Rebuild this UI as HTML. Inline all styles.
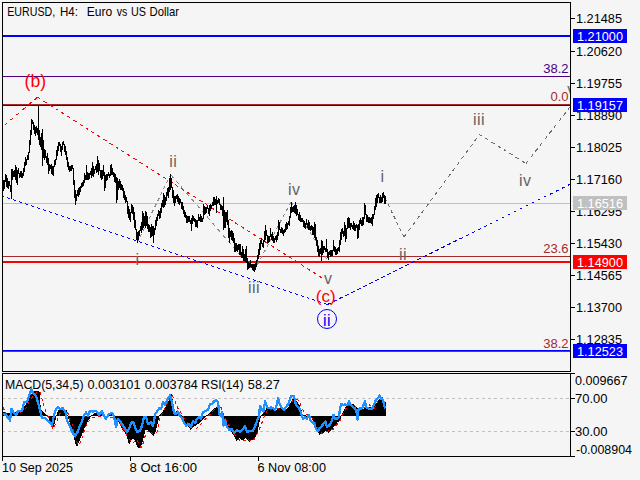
<!DOCTYPE html>
<html><head><meta charset="utf-8"><title>EURUSD H4</title>
<style>
html,body{margin:0;padding:0;background:#f5f5f5;}
body{width:640px;height:480px;overflow:hidden;position:relative;font-family:"Liberation Sans",sans-serif;}
svg{position:absolute;left:0;top:0;display:block;}
text{font-family:"Liberation Sans",sans-serif;}
.ax{font-size:13px;fill:#000;}
.axw{font-size:13px;fill:#fff;}
.wv{font-size:16px;fill:#646464;letter-spacing:0.4px;}
.wr{font-size:17px;fill:#ff0000;}
.fb{font-size:13px;}
</style></head><body>
<svg width="640" height="480" viewBox="0 0 640 480">
<rect x="0" y="0" width="640" height="480" fill="#f5f5f5"/>
<g shape-rendering="crispEdges">
<rect x="3" y="35" width="567" height="2" fill="#0000ff"/>
<rect x="3" y="76" width="567" height="1" fill="#4b0082"/>
<rect x="3" y="104" width="567" height="1" fill="#a52a2a"/>
<rect x="3" y="105" width="567" height="1" fill="#0000ff"/>
<rect x="3" y="203" width="567" height="1" fill="#c0c0c0"/>
<rect x="3" y="256" width="567" height="1" fill="#a52a2a"/>
<rect x="3" y="261" width="567" height="2" fill="#ff0000"/>
<rect x="3" y="350" width="567" height="1" fill="#0000ff"/>
<rect x="3" y="351" width="567" height="1" fill="#a52a2a"/>
</g>
<g shape-rendering="crispEdges" fill="none">
<path d="M2 398.5H570M2 431.5H570" stroke="#c0c0c0" stroke-width="1" stroke-dasharray="3 3"/>
</g>
<g fill="none" stroke-width="1" shape-rendering="crispEdges">
<path d="M37.5 97.2L3 126.5" stroke="#ff0000" stroke-dasharray="3.94 3.94"/>
<path d="M37.5 97.2L323 278.5" stroke="#ff0000" stroke-dasharray="3.55 3.55"/>
<path d="M327.5 304.5L3 196.3" stroke="#0000ff" stroke-dasharray="3.16 3.16"/>
<path d="M327.5 304.5L570 184.3" stroke="#0000ff" stroke-dasharray="3.35 3.35"/>
<path d="M137 243L170.7 174.7" stroke="#8a8a8a" stroke-dasharray="3.35 3.35"/>
<path d="M170.7 174.7L254 271" stroke="#8a8a8a" stroke-dasharray="3.97 3.97"/>
<path d="M254 271L291 202" stroke="#8a8a8a" stroke-dasharray="3.40 3.40"/>
<path d="M291 202L328 261" stroke="#8a8a8a" stroke-dasharray="3.54 3.54"/>
<path d="M385 198L404 237" stroke="#6c6c6c" stroke-dasharray="3.34 3.34"/>
<path d="M404 237L479.5 134.5" stroke="#6c6c6c" stroke-dasharray="3.73 3.73"/>
<path d="M479.5 134.5L526 163.5" stroke="#6c6c6c" stroke-dasharray="3.54 3.54"/>
<path d="M526 163.5L570 107" stroke="#6c6c6c" stroke-dasharray="3.80 3.80"/>
</g>
<g shape-rendering="crispEdges">
<path d="M3 180v11M4 180v9M5 174v8M6 175v12M7 178v10M8 181v8M9 181v5M10 185v7M11 169v30M12 169v11M13 171v6M14 170v7M15 165v15M16 167v16M17 170v15M18 168v6M19 173v5M20 171v6M21 171v7M22 173v5M23 168v8M24 162v10M25 157v9M26 159v6M27 155v5M28 152v8M29 140v13M30 130v15M31 119v16M32 120v4M33 122v8M34 125v9M35 127v9M36 126v7M37 128v7M38 105v35M39 130v15M40 137v10M41 133v17M42 129v37M43 140v18M44 149v11M45 150v8M46 156v7M47 153v12M48 158v16M49 164v7M50 165v4M51 164v10M52 166v9M53 166v10M54 160v7M55 159v6M56 150v10M57 146v10M58 142v9M59 142v4M60 144v8M61 146v10M62 142v8M63 141v4M64 144v8M65 146v9M66 151v9M67 157v10M68 162v8M69 166v6M70 166v5M71 165v6M72 165v4M73 168v17M74 180v18M75 190v15M76 194v7M77 190v6M78 188v9M79 187v8M80 186v6M81 183v5M82 182v5M83 180v6M84 173v10M85 175v5M86 165v15M87 172v8M88 173v7M89 173v6M90 171v4M91 168v10M92 162v14M93 166v11M94 169v5M95 166v4M96 164v9M97 156v16M98 160v15M99 163v8M100 170v8M101 170v10M102 170v9M103 165v11M104 172v19M105 175v13M106 174v7M107 174v6M108 172v4M109 174v4M110 165v11M111 164v11M112 168v7M113 172v5M114 173v9M115 174v9M116 177v26M117 178v22M118 181v9M119 179v9M120 181v9M121 184v6M122 185v6M123 188v10M124 191v9M125 195v8M126 197v5M127 201v13M128 206v12M129 209v11M130 212v10M131 204v9M132 205v9M133 207v13M134 212v16M135 220v10M136 229v11M137 232v11M138 231v9M139 230v6M140 226v5M141 222v11M142 211v19M143 213v15M144 216v10M145 211v17M146 212v14M147 216v13M148 224v8M149 225v7M150 227v11M151 224v13M152 226v10M153 226v17M154 228v7M155 220v10M156 217v9M157 214v7M158 210v6M159 211v8M160 208v10M161 203v10M162 200v7M163 193v15M164 195v12M165 197v8M166 192v9M167 188v8M168 187v11M169 178v14M170 174v16M171 178v10M172 187v11M173 190v13M174 196v10M175 196v7M176 195v4M177 194v8M178 196v8M179 198v7M180 199v4M181 202v7M182 202v8M183 206v8M184 210v7M185 212v6M186 215v8M187 216v7M188 216v6M189 216v6M190 220v4M191 218v13M192 215v9M193 216v5M194 218v4M195 219v8M196 220v7M197 220v8M198 214v7M199 217v4M200 214v8M201 216v6M202 218v4M203 204v15M204 206v9M205 207v7M206 207v6M207 205v4M208 208v6M209 205v11M210 204v7M211 205v4M212 202v4M213 197v9M214 197v8M215 199v6M216 196v17M217 200v4M218 198v5M219 199v6M220 204v6M221 205v5M222 206v10M223 197v33M224 210v18M225 212v16M226 212v10M227 210v15M228 220v18M229 228v15M230 231v6M231 230v10M232 231v10M233 233v10M234 238v14M235 243v9M236 243v8M237 245v7M238 244v6M239 244v11M240 244v11M241 252v6M242 246v12M243 249v12M244 254v7M245 249v13M246 246v17M247 258v12M248 262v7M249 263v5M250 260v7M251 264v4M252 264v6M253 264v7M254 264v8M255 263v7M256 260v7M257 255v6M258 249v10M259 243v12M260 240v10M261 238v6M262 243v4M263 240v8M264 231v11M265 225v15M266 230v6M267 235v8M268 236v7M269 236v6M270 228v9M271 234v6M272 232v9M273 236v7M274 238v5M275 236v4M276 235v7M277 232v8M278 220v16M279 222v8M280 229v4M281 227v6M282 228v6M283 230v6M284 229v4M285 224v8M286 222v8M287 223v6M288 221v4M289 216v10M290 207v11M291 202v11M292 207v5M293 206v6M294 205v8M295 202v12M296 205v11M297 209v6M298 214v6M299 212v9M300 215v7M301 218v4M302 218v4M303 220v7M304 221v7M305 223v6M306 219v6M307 223v5M308 220v10M309 222v8M310 226v5M311 225v5M312 226v9M313 227v8M314 222v16M315 224v16M316 237v9M317 240v12M318 246v10M319 249v8M320 248v6M321 240v21M322 241v14M323 246v7M324 246v4M325 248v4M326 239v13M327 249v9M328 252v8M329 251v4M330 250v7M331 250v6M332 250v6M333 240v11M334 246v6M335 247v8M336 249v6M337 248v6M338 247v4M339 240v12M340 232v13M341 229v11M342 228v6M343 231v6M344 222v14M345 225v17M346 228v11M347 218v11M348 217v11M349 218v10M350 223v7M351 223v4M352 225v4M353 221v9M354 223v8M355 225v6M356 224v4M357 225v14M358 224v14M359 220v10M360 218v6M361 220v6M362 217v9M363 217v8M364 203v16M365 205v10M366 214v8M367 215v7M368 217v6M369 217v6M370 218v5M371 217v7M372 214v12M373 214v5M374 206v9M375 198v12M376 195v12M377 194v9M378 193v5M379 197v6M380 195v8M381 197v6M382 193v9M383 192v6M384 195v9M385 196v8" stroke="#000" stroke-width="1" fill="none" transform="translate(0.5,0)"/>
</g>
<g shape-rendering="crispEdges">
<path d="M3 412V416M4 412V416M5 412V416M6 413V416M7 413V416M8 413V416M9 413V416M10 412V416M11 412V416M12 412V416M13 412V416M14 412V416M15 412V416M16 412V416M17 412V416M18 411V416M19 410V416M20 410V416M21 409V416M22 408V416M23 407V416M24 406V416M25 405V416M26 403V416M27 401V416M28 399V416M29 397V416M30 395V416M31 394V416M32 392V416M33 391V416M34 391V416M35 391V416M36 391V416M37 391V416M38 391V416M39 392V416M40 405V416M41 410V416M42 411V416M43 412V416M44 413V416M45 414V416M46 415V416M47 415V416M48 416V418M49 416V421M50 416V423M51 416V425M52 416V428M53 416V427M54 416V424M55 416V420M56 415V416M57 412V416M58 410V416M59 410V416M60 410V416M61 410V416M62 410V416M63 410V416M64 410V416M65 410V416M66 410V416M67 415V416M68 416V419M69 416V422M70 416V426M71 416V429M72 416V432M73 416V435M74 416V440M75 416V444M76 416V446M77 416V446M78 416V443M79 416V441M80 416V438M81 416V436M82 416V433M83 416V431M84 416V428M85 416V426M86 416V424M87 416V422M88 416V420M89 416V419M90 416V417M91 415V416M92 415V416M93 414V416M94 413V416M95 413V416M96 413V416M97 413V416M98 413V416M99 413V416M100 413V416M101 414V416M102 414V416M103 415V416M104 416V417M105 416V418M106 416V419M107 416V418M108 415V416M109 415V416M110 414V416M111 414V416M112 414V416M113 415V416M114 416V417M115 416V419M116 416V420M117 416V421M118 416V422M119 416V424M120 416V426M121 416V428M122 416V430M123 416V431M124 416V432M125 416V434M126 416V435M127 416V439M128 416V443M129 416V444M130 416V442M131 416V440M132 416V439M133 416V439M134 416V440M135 416V442M136 416V445M137 416V447M138 416V448M139 416V448M140 416V447M141 416V445M142 416V442M143 416V438M144 416V434M145 416V430M146 416V430M147 416V430M148 416V431M149 416V432M150 416V433M151 416V434M152 416V435M153 416V436M154 416V434M155 416V432M156 416V428M157 416V424M158 416V420M159 415V416M160 414V416M161 413V416M162 412V416M163 410V416M164 408V416M165 407V416M166 405V416M167 403V416M168 401V416M169 397V416M170 394V416M171 394V416M172 399V416M173 405V416M174 410V416M175 412V416M176 411V416M177 410V416M178 412V416M179 415V416M180 415V416M181 415V416M182 416V418M183 416V420M184 416V422M185 416V424M186 416V425M187 416V426M188 416V427M189 416V428M190 416V430M191 416V429M192 416V428M193 416V427M194 416V426M195 416V426M196 416V425M197 416V424M198 416V424M199 416V423M200 416V422M201 416V421M202 416V420M203 416V419M204 416V418M205 416V417M206 415V416M207 415V416M208 414V416M209 413V416M210 412V416M211 411V416M212 410V416M213 409V416M214 408V416M215 408V416M216 407V416M217 406V416M218 407V416M219 408V416M220 415V416M221 416V418M222 416V420M223 416V421M224 416V422M225 416V424M226 416V426M227 416V427M228 416V428M229 416V430M230 416V431M231 416V432M232 416V434M233 416V435M234 416V437M235 416V439M236 416V441M237 416V440M238 416V439M239 416V438M240 416V439M241 416V440M242 416V440M243 416V440M244 416V439M245 416V438M246 416V439M247 416V440M248 416V441M249 416V442M250 416V441M251 416V440M252 416V440M253 416V439M254 416V438M255 416V437M256 416V434M257 416V432M258 416V427M259 416V422M260 416V418M261 415V416M262 414V416M263 413V416M264 411V416M265 410V416M266 408V416M267 408V416M268 408V416M269 408V416M270 408V416M271 409V416M272 409V416M273 409V416M274 410V416M275 410V416M276 410V416M277 409V416M278 409V416M279 408V416M280 408V416M281 408V416M282 409V416M283 410V416M284 411V416M285 410V416M286 409V416M287 408V416M288 407V416M289 405V416M290 403V416M291 401V416M292 399V416M293 398V416M294 399V416M295 400V416M296 401V416M297 402V416M298 404V416M299 405V416M300 408V416M301 410V416M302 415V416M303 415V416M304 415V416M305 415V416M306 416V417M307 416V417M308 416V417M309 416V417M310 416V418M311 416V418M312 416V420M313 416V422M314 416V425M315 416V427M316 416V429M317 416V431M318 416V433M319 416V435M320 416V434M321 416V434M322 416V433M323 416V433M324 416V432M325 416V431M326 416V432M327 416V432M328 416V433M329 416V432M330 416V431M331 416V430M332 416V429M333 416V427M334 416V426M335 416V425M336 416V424M337 416V422M338 416V422M339 416V420M340 416V419M341 415V416M342 413V416M343 411V416M344 409V416M345 407V416M346 406V416M347 405V416M348 404V416M349 404V416M350 404V416M351 404V416M352 404V416M353 404V416M354 405V416M355 406V416M356 407V416M357 408V416M358 409V416M359 409V416M360 409V416M361 409V416M362 409V416M363 409V416M364 408V416M365 408V416M366 408V416M367 408V416M368 407V416M369 407V416M370 407V416M371 407V416M372 408V416M373 408V416M374 406V416M375 404V416M376 403V416M377 401V416M378 400V416M379 399V416M380 398V416M381 399V416M382 399V416M383 400V416M384 401V416M385 402V416" stroke="#000" stroke-width="1" fill="none" transform="translate(0.5,0)"/>
</g>
<path d="M3.0 407.0 L5.0 412.0 L8.0 416.5 L12.0 417.0 L18.0 414.0 L23.0 411.0 L27.0 407.0 L30.0 400.0 L34.0 395.0 L38.0 392.0 L40.0 392.0 L42.0 398.6 L44.0 406.4 L46.0 412.0 L48.0 416.5 L51.0 424.0 L53.0 429.0 L56.0 423.6 L58.0 418.0 L60.0 413.4 L63.0 411.0 L66.0 410.3 L68.0 413.4 L70.0 421.0 L72.0 423.6 L74.0 432.0 L76.0 440.5 L79.0 445.0 L82.0 438.0 L84.5 430.0 L87.0 424.0 L90.0 420.0 L92.0 417.8 L98.0 416.0 L104.0 416.0 L108.0 417.5 L112.0 417.0 L116.0 419.0 L120.0 424.0 L124.0 430.0 L126.0 433.4 L128.0 438.0 L131.0 441.0 L133.0 442.8 L137.0 439.7 L139.0 444.0 L141.0 447.5 L143.0 443.6 L145.0 436.6 L147.0 432.0 L150.0 430.3 L153.0 434.0 L157.0 432.0 L159.0 422.5 L160.0 417.8 L163.0 412.3 L166.0 406.0 L169.0 400.0 L172.0 395.0 L174.0 398.3 L176.0 403.8 L178.0 408.4 L181.0 413.0 L183.0 416.2 L186.0 421.0 L190.0 426.0 L194.0 428.5 L197.0 428.0 L200.0 425.6 L203.0 421.7 L206.0 418.6 L209.0 415.5 L213.0 411.0 L217.0 407.0 L220.0 405.0 L222.0 410.0 L224.0 415.5 L228.0 424.0 L231.0 428.8 L234.0 433.0 L237.0 438.0 L240.0 440.5 L245.0 440.5 L248.0 439.0 L250.0 441.0 L254.0 439.7 L257.0 434.0 L259.0 430.0 L261.0 425.0 L263.0 420.0 L265.0 414.7 L267.0 410.8 L272.0 409.0 L280.0 408.0 L286.0 408.0 L290.0 404.0 L294.0 399.0 L298.0 400.0 L300.0 403.0 L302.0 408.4 L305.0 413.0 L308.0 415.5 L312.0 417.8 L315.0 421.7 L317.0 425.6 L320.0 431.0 L322.0 433.4 L328.0 431.0 L333.0 429.5 L336.0 425.6 L339.0 422.5 L341.5 417.8 L343.5 413.0 L346.0 408.4 L349.0 405.5 L352.0 404.5 L355.0 406.0 L357.0 409.0 L362.0 408.5 L366.0 407.0 L369.0 404.5 L372.0 406.9 L374.0 408.4 L376.0 405.3 L378.0 400.6 L381.0 398.5 L383.0 397.5 L385.0 398.0" stroke="#ff0000" stroke-width="1" fill="none" stroke-dasharray="3 3" shape-rendering="crispEdges"/>
<path d="M3.0 414.0 L6.0 415.0 L10.0 420.5 L11.5 408.8 L14.0 413.0 L16.0 415.0 L18.0 411.0 L22.0 411.0 L24.0 402.5 L27.0 401.7 L29.5 394.7 L31.5 389.2 L33.0 393.0 L36.0 396.0 L38.0 402.5 L40.0 410.0 L42.0 418.0 L45.0 418.0 L48.0 421.0 L52.0 425.0 L54.0 415.0 L56.0 409.5 L58.0 407.0 L60.0 408.8 L63.0 408.4 L65.5 412.3 L67.0 421.0 L70.0 426.4 L73.0 433.4 L75.0 435.8 L77.5 432.0 L80.0 425.6 L82.0 421.0 L84.0 415.5 L86.0 412.3 L88.0 415.5 L90.0 410.8 L93.0 411.5 L96.0 410.8 L99.0 414.7 L102.0 411.5 L104.0 416.2 L106.0 418.6 L109.0 414.0 L112.0 413.0 L114.0 416.2 L116.0 427.0 L118.0 418.6 L121.0 422.5 L124.0 427.0 L127.0 432.0 L129.0 428.8 L131.0 423.3 L133.0 421.7 L135.0 427.0 L137.0 432.0 L140.0 431.0 L142.0 425.6 L144.0 417.0 L146.0 417.0 L148.0 424.0 L151.0 422.5 L153.0 426.4 L155.0 414.7 L157.0 411.6 L159.0 408.4 L161.0 409.2 L163.0 402.2 L165.0 404.5 L167.0 400.6 L170.0 395.2 L172.0 402.2 L174.0 413.0 L176.0 414.0 L178.0 411.6 L180.0 416.2 L182.0 417.8 L184.0 422.5 L186.0 425.6 L189.0 424.0 L191.0 427.0 L193.0 421.0 L195.0 423.3 L197.0 418.6 L199.0 417.0 L201.0 418.6 L203.0 412.3 L206.0 410.8 L208.0 410.0 L210.0 404.5 L212.0 403.8 L214.0 401.4 L216.0 399.8 L218.0 402.2 L219.5 414.7 L221.0 416.2 L222.0 412.3 L223.5 425.6 L225.0 420.0 L227.0 427.0 L229.0 429.5 L232.0 429.5 L234.0 432.6 L237.0 430.3 L240.0 432.0 L242.0 430.3 L245.0 426.4 L247.0 432.0 L250.0 431.0 L253.0 431.0 L255.0 426.4 L257.0 421.0 L259.0 416.2 L260.0 406.0 L262.0 410.0 L263.5 411.5 L265.0 401.4 L267.0 406.9 L269.0 408.4 L271.0 406.9 L273.0 408.4 L275.0 410.0 L277.0 404.5 L278.0 398.3 L280.0 405.3 L282.0 407.7 L284.0 410.0 L286.0 406.9 L288.0 404.5 L289.5 400.6 L291.0 396.0 L294.0 396.0 L296.0 405.3 L299.0 407.7 L301.0 413.0 L303.0 418.6 L305.0 417.0 L307.0 418.6 L309.0 414.7 L310.0 420.0 L312.0 421.7 L314.0 423.3 L316.0 428.8 L318.0 431.0 L320.0 428.0 L322.0 425.6 L324.0 423.3 L325.5 421.7 L327.0 427.0 L329.0 425.6 L331.0 423.3 L332.5 418.6 L333.5 414.7 L335.0 418.6 L337.0 418.6 L339.0 417.0 L340.0 408.4 L341.5 403.8 L343.0 405.3 L345.0 404.5 L347.0 405.3 L349.0 401.4 L351.0 405.3 L353.0 406.9 L355.0 408.4 L356.5 412.3 L357.5 419.4 L358.5 410.0 L360.0 408.4 L362.0 408.4 L364.0 403.8 L365.0 400.6 L366.0 406.9 L368.0 408.4 L370.0 409.2 L372.0 409.2 L374.0 404.5 L376.0 399.8 L378.0 398.3 L379.5 395.2 L381.0 399.0 L383.0 399.8 L384.0 404.5 L385.0 408.4" stroke="#1e90ff" stroke-width="2.3" fill="none" stroke-linejoin="round" shape-rendering="crispEdges"/>
<g shape-rendering="crispEdges" fill="#000">
<rect x="2" y="2" width="569" height="1"/>
<rect x="2" y="371" width="569" height="1"/>
<rect x="2" y="2" width="1" height="370"/>
<rect x="570" y="2" width="1" height="370"/>
<rect x="2" y="373" width="569" height="1"/>
<rect x="2" y="456" width="569" height="1"/>
<rect x="2" y="373" width="1" height="88"/>
<rect x="570" y="373" width="1" height="84"/>
<rect x="130" y="456" width="1" height="5"/>
<rect x="258" y="456" width="1" height="5"/>
<rect x="571" y="18" width="4" height="1"/>
<rect x="571" y="51" width="4" height="1"/>
<rect x="571" y="83" width="4" height="1"/>
<rect x="571" y="115" width="4" height="1"/>
<rect x="571" y="147" width="4" height="1"/>
<rect x="571" y="179" width="4" height="1"/>
<rect x="571" y="211" width="4" height="1"/>
<rect x="571" y="243" width="4" height="1"/>
<rect x="571" y="275" width="4" height="1"/>
<rect x="571" y="307" width="4" height="1"/>
<rect x="571" y="339" width="4" height="1"/>
<rect x="571" y="373" width="4" height="1"/>
<rect x="571" y="398" width="4" height="1"/>
<rect x="571" y="431" width="4" height="1"/>
<rect x="571" y="456" width="4" height="1"/>
</g>
<text class="ax" x="576" y="23" textLength="46" lengthAdjust="spacingAndGlyphs">1.21485</text>
<text class="ax" x="576" y="56" textLength="46" lengthAdjust="spacingAndGlyphs">1.20620</text>
<text class="ax" x="576" y="88" textLength="46" lengthAdjust="spacingAndGlyphs">1.19755</text>
<text class="ax" x="576" y="120" textLength="46" lengthAdjust="spacingAndGlyphs">1.18890</text>
<text class="ax" x="576" y="152" textLength="46" lengthAdjust="spacingAndGlyphs">1.18025</text>
<text class="ax" x="576" y="184" textLength="46" lengthAdjust="spacingAndGlyphs">1.17160</text>
<text class="ax" x="576" y="216" textLength="46" lengthAdjust="spacingAndGlyphs">1.16295</text>
<text class="ax" x="576" y="248" textLength="46" lengthAdjust="spacingAndGlyphs">1.15430</text>
<text class="ax" x="576" y="280" textLength="46" lengthAdjust="spacingAndGlyphs">1.14565</text>
<text class="ax" x="576" y="312" textLength="46" lengthAdjust="spacingAndGlyphs">1.13700</text>
<text class="ax" x="576" y="344" textLength="46" lengthAdjust="spacingAndGlyphs">1.12835</text>
<text class="ax" x="575" y="385" textLength="52.5" lengthAdjust="spacingAndGlyphs">0.009667</text>
<text class="ax" x="575" y="403" textLength="32.5" lengthAdjust="spacingAndGlyphs">70.00</text>
<text class="ax" x="575" y="436" textLength="32.5" lengthAdjust="spacingAndGlyphs">30.00</text>
<text class="ax" x="576" y="454" textLength="56" lengthAdjust="spacingAndGlyphs">-0.008904</text>
<rect x="573" y="29" width="54" height="14" fill="#0000ff" shape-rendering="crispEdges"/>
<text class="axw" x="577" y="41" textLength="46" lengthAdjust="spacingAndGlyphs">1.21000</text>
<rect x="573" y="98" width="54" height="14" fill="#0000ff" shape-rendering="crispEdges"/>
<text class="axw" x="577" y="110" textLength="46" lengthAdjust="spacingAndGlyphs">1.19157</text>
<rect x="573" y="196" width="54" height="14" fill="#c0c0c0" shape-rendering="crispEdges"/>
<text class="axw" x="577" y="208" textLength="46" lengthAdjust="spacingAndGlyphs">1.16516</text>
<rect x="573" y="255" width="54" height="14" fill="#ff0000" shape-rendering="crispEdges"/>
<text class="axw" x="577" y="267" textLength="46" lengthAdjust="spacingAndGlyphs">1.14900</text>
<rect x="573" y="344" width="54" height="14" fill="#0000ff" shape-rendering="crispEdges"/>
<text class="axw" x="577" y="356" textLength="46" lengthAdjust="spacingAndGlyphs">1.12523</text>
<text class="ax" x="7.2" y="16" textLength="48" lengthAdjust="spacingAndGlyphs">EURUSD,</text>
<text class="ax" x="60" y="16" textLength="18" lengthAdjust="spacingAndGlyphs">H4:</text>
<text class="ax" x="86.8" y="16" textLength="25.5" lengthAdjust="spacingAndGlyphs">Euro</text>
<text class="ax" x="116.8" y="16" textLength="10.5" lengthAdjust="spacingAndGlyphs">vs</text>
<text class="ax" x="131" y="16" textLength="15" lengthAdjust="spacingAndGlyphs">US</text>
<text class="ax" x="149.6" y="16" textLength="29.5" lengthAdjust="spacingAndGlyphs">Dollar</text>
<text class="ax" x="5" y="389" textLength="78.5" lengthAdjust="spacingAndGlyphs">MACD(5,34,5)</text>
<text class="ax" x="87.5" y="389" textLength="53" lengthAdjust="spacingAndGlyphs">0.003101</text>
<text class="ax" x="144.8" y="389" textLength="53" lengthAdjust="spacingAndGlyphs">0.003784</text>
<text class="ax" x="201" y="389" textLength="42.5" lengthAdjust="spacingAndGlyphs">RSI(14)</text>
<text class="ax" x="247.8" y="389" textLength="32" lengthAdjust="spacingAndGlyphs">58.27</text>
<text class="ax" x="2" y="472" textLength="71" lengthAdjust="spacingAndGlyphs">10 Sep 2025</text>
<text class="ax" x="129.5" y="472" textLength="67.5" lengthAdjust="spacingAndGlyphs">8 Oct 16:00</text>
<text class="ax" x="257.5" y="472" textLength="68.5" lengthAdjust="spacingAndGlyphs">6 Nov 08:00</text>
<text class="fb" x="568.6" y="73" text-anchor="end" fill="#4b0082">38.2</text>
<text class="fb" x="568.6" y="101" text-anchor="end" fill="#a52a2a">0.0</text>
<text class="fb" x="568.6" y="253" text-anchor="end" fill="#a52a2a">23.6</text>
<text class="fb" x="568.6" y="348" text-anchor="end" fill="#a52a2a">38.2</text>
<text class="wr" x="24.6" y="87" style="font-size:17.6px">(b)</text>
<text class="wr" x="315.8" y="302">(c)</text>
<text class="wv" x="169.2" y="167">ii</text>
<text class="wv" x="135.5" y="264.5">i</text>
<text class="wv" x="248" y="292.5">iii</text>
<text class="wv" x="288" y="194.5">iv</text>
<text class="wv" x="324" y="284">v</text>
<text class="wv" x="380.5" y="182">i</text>
<text class="wv" x="399" y="259.5">ii</text>
<text class="wv" x="473" y="124.5">iii</text>
<text class="wv" x="519" y="185.5">iv</text>
<clipPath id="cp"><rect x="3" y="3" width="567" height="368"/></clipPath>
<text class="wv" x="567.3" y="94.5" clip-path="url(#cp)">v</text>
<circle cx="327" cy="319" r="9.5" fill="none" stroke="#0000ff" stroke-width="1"/>
<text x="323" y="325.5" style="font-size:16px;letter-spacing:0.4px" fill="#0000ff">ii</text>
</svg>
</body></html>
